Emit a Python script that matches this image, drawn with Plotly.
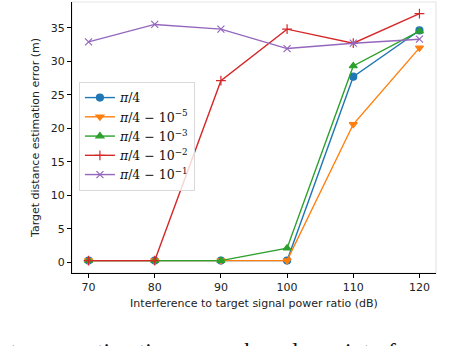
import plotly.graph_objects as go

# Interference-to-target signal power ratio (dB)
ratio_db = [70, 80, 90, 100, 110, 120]

# Target distance estimation error (m) for each phase setting
err_pi4 = [0.25, 0.25, 0.25, 0.25, 27.7, 34.6]
err_m5 = [0.25, 0.25, 0.25, 0.25, 20.6, 32.0]
err_m3 = [0.25, 0.25, 0.25, 2.1, 29.3, 34.5]
err_m2 = [0.25, 0.25, 27.1, 34.8, 32.7, 37.1]
err_m1 = [32.9, 35.5, 34.8, 31.9, 32.7, 33.3]

series_names = [
    "<i>π</i>/4",
    "<i>π</i>/4 − 10<sup>−5</sup>",
    "<i>π</i>/4 − 10<sup>−3</sup>",
    "<i>π</i>/4 − 10<sup>−2</sup>",
    "<i>π</i>/4 − 10<sup>−1</sup>",
]

x_ticks = [70, 80, 90, 100, 110, 120]
y_ticks = [0, 5, 10, 15, 20, 25, 30, 35]

colors = ["#1f77b4", "#ff7f0e", "#2ca02c", "#d62728", "#9467bd"]
symbols = ["circle", "triangle-down", "triangle-up", "cross-thin", "x-thin"]

fig = go.Figure()

for ys, name, c, s in zip([err_pi4, err_m5, err_m3, err_m2, err_m1],
                          series_names, colors, symbols):
    fig.add_trace(go.Scatter(
        x=ratio_db, y=ys, name=name, mode="lines+markers",
        line=dict(color=c, width=1.4),
        marker=dict(symbol=s, size=7, color=c, line=dict(color=c, width=1.2)),
    ))

# light grey top/right frame (matplotlib style)
fig.add_shape(type="rect", xref="paper", yref="paper", x0=0, y0=0, x1=1, y1=1,
              line=dict(color="#e6e6e6", width=1.2), layer="below")

# cropped caption under the chart (justified text, wide word gaps)
gap = "&nbsp;&nbsp;"
caption = ("stance&nbsp;&nbsp;&nbsp;"
           + gap.join(["estimation", "error", "based", "on", "interferen"]))
fig.add_annotation(
    text=caption,
    xref="paper", yref="paper", x=-0.2, y=-0.231,
    xanchor="left", yanchor="top", showarrow=False,
    font=dict(family="Liberation Serif", size=23.5, color="#111"),
)

axis_font = dict(family="DejaVu Sans", size=11, color="#222")

fig.update_layout(
    width=472, height=346,
    margin=dict(l=72, r=36, t=2, b=73),
    paper_bgcolor="white", plot_bgcolor="white",
    font=axis_font,
    showlegend=True,
    legend=dict(
        x=0.019, y=0.705, xanchor="left", yanchor="top",
        bgcolor="rgba(255,255,255,0.8)", bordercolor="#d9d9d9", borderwidth=1,
        font=dict(family="DejaVu Serif", size=12.5, color="#111"),
        itemwidth=30,
    ),
    xaxis=dict(
        range=[67.5, 122.5], tickvals=x_ticks, showgrid=False, zeroline=False,
        showline=True, linecolor="black", linewidth=1.2,
        ticks="outside", ticklen=4, tickcolor="black", automargin=False,
        title=dict(text="Interference to target signal power ratio (dB)",
                   font=axis_font, standoff=6),
    ),
    yaxis=dict(
        range=[-1.6, 38.85], tickvals=y_ticks, showgrid=False, zeroline=False,
        showline=True, linecolor="black", linewidth=1.2,
        ticks="outside", ticklen=4, tickcolor="black", automargin=False,
        title=dict(text="Target distance estimation error (m)",
                   font=axis_font, standoff=8),
    ),
)

fig.write_html("out.html", config={"displayModeBar": False},
               post_script="document.body.style.margin='0';")
